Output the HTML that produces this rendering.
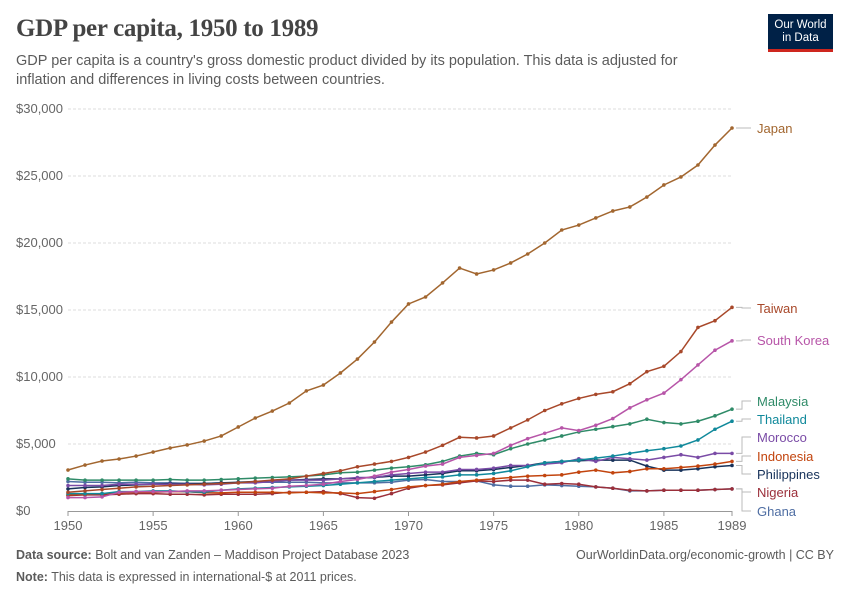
<!DOCTYPE html>
<html><head><meta charset="utf-8"><style>
body{margin:0;background:#fff;width:850px;height:600px;overflow:hidden;font-family:"Liberation Sans",sans-serif}
#title{position:absolute;left:16px;top:15px;font-family:"Liberation Serif",serif;font-size:25px;color:#444;margin:0;font-weight:bold;letter-spacing:-0.3px}
#sub{position:absolute;left:16px;top:52px;width:700px;font-size:14.5px;line-height:19px;color:#5b5b5b}
#logo{position:absolute;left:768px;top:14px;width:65px;height:38px;background:#002147;border-bottom:3px solid #ce261e;color:#fff;font-size:11.5px;line-height:13px;text-align:center;box-sizing:border-box;padding-top:5px}
.foot{position:absolute;font-size:12.5px;color:#5b5b5b}
</style></head><body>
<h1 id="title">GDP per capita, 1950 to 1989</h1>
<div id="sub">GDP per capita is a country's gross domestic product divided by its population. This data is adjusted for inflation and differences in living costs between countries.</div>
<div id="logo">Our World<br>in Data</div>
<svg id="chart" width="850" height="600" style="position:absolute;left:0;top:0"></svg>
<div class="foot" style="left:16px;top:548px"><b>Data source:</b> Bolt and van Zanden – Maddison Project Database 2023</div>
<div class="foot" style="right:16px;top:548px">OurWorldinData.org/economic-growth | CC BY</div>
<div class="foot" style="left:16px;top:570px"><b>Note:</b> This data is expressed in international-$ at 2011 prices.</div>
<script>
const years=[];for(let y=1950;y<=1989;y++)years.push(y);
const yTicks=[0,5000,10000,15000,20000,25000,30000];
const yTickLabels=["$0","$5,000","$10,000","$15,000","$20,000","$25,000","$30,000"];
const xTicks=[1950,1955,1960,1965,1970,1975,1980,1985,1989];
const japan=[3060,3430,3730,3880,4100,4400,4700,4930,5220,5600,6270,6940,7460,8060,8960,9400,10300,11340,12610,14100,15450,15970,17020,18130,17690,17990,18510,19180,20000,20970,21340,21870,22390,22690,23430,24330,24930,25820,27310,28580];
const taiwan=[1400,1500,1600,1700,1800,1850,1900,1950,2000,2050,2100,2200,2300,2400,2600,2800,3000,3300,3500,3700,4000,4400,4900,5500,5450,5600,6200,6800,7500,8000,8400,8700,8900,9500,10400,10800,11900,13700,14200,15200];
const korea=[1000,1000,1050,1400,1450,1450,1450,1500,1500,1550,1600,1650,1700,1850,1900,2000,2200,2350,2600,2900,3100,3350,3500,4000,4150,4300,4900,5400,5800,6200,6000,6400,6900,7700,8300,8800,9800,10900,12000,12700];
const malaysia=[2400,2300,2300,2300,2300,2300,2350,2300,2300,2350,2400,2450,2500,2550,2600,2700,2850,2900,3050,3200,3300,3450,3700,4100,4300,4200,4650,5000,5300,5600,5900,6100,6300,6500,6850,6600,6500,6700,7100,7600];
const thailand=[1300,1300,1300,1450,1450,1500,1500,1450,1400,1550,1650,1700,1750,1800,1850,1900,2000,2100,2200,2300,2400,2500,2550,2700,2700,2800,3000,3300,3600,3700,3800,3950,4100,4300,4500,4650,4850,5300,6100,6700];
const morocco=[1900,1900,1900,2000,2000,2000,2000,2000,1950,2000,2100,2100,2200,2300,2300,2300,2400,2500,2500,2700,2800,2900,2900,3100,3100,3200,3400,3400,3500,3600,3900,3700,4000,3900,3800,4000,4200,4000,4300,4300];
const indonesia=[1200,1250,1300,1350,1400,1400,1450,1450,1350,1350,1400,1400,1400,1350,1400,1350,1350,1300,1450,1600,1800,1900,2000,2200,2300,2400,2500,2600,2650,2700,2900,3050,2850,2950,3150,3150,3250,3350,3500,3700];
const philippines=[1650,1750,1800,1900,1950,2000,2050,2050,2050,2100,2150,2200,2250,2300,2350,2400,2400,2450,2500,2600,2600,2700,2800,3000,3000,3100,3250,3400,3600,3700,3750,3800,3800,3800,3350,3050,3050,3150,3300,3400];
const nigeria=[1150,1200,1200,1250,1300,1300,1250,1250,1200,1250,1250,1250,1300,1400,1400,1450,1300,1000,950,1300,1700,1900,1950,2100,2250,2200,2300,2300,2000,2050,2000,1800,1700,1550,1500,1550,1550,1550,1600,1650];
const ghana=[2200,2150,2150,2100,2150,2100,2100,2050,2050,2100,2100,2150,2150,2150,2150,2100,2100,2100,2100,2150,2300,2350,2200,2200,2250,1950,1850,1850,1950,1900,1850,1800,1700,1500,1500,1550,1550,1550,1600,1650];
const seriesNames=["Japan","Taiwan","South Korea","Malaysia","Thailand","Morocco","Indonesia","Philippines","Nigeria","Ghana"];
const seriesValues=[japan,taiwan,korea,malaysia,thailand,morocco,indonesia,philippines,nigeria,ghana];
const colors=["#a2662f","#a8482a","#b755a8","#2f8b68","#10899b","#7a4ba6","#c2440e","#17325a","#9b2f3a","#4f6ea3"];
const labelY=[133,313,345,406,424,442,461,479,497,516];

const svg=document.getElementById('chart');const NS='http://www.w3.org/2000/svg';
const X0=68,X1=732,Y0=511,Y1=109;
const xs=v=>X0+(v-1950)/(1989-1950)*(X1-X0);
const ys=v=>Y0-v/30000*(Y0-Y1);
function mk(t,a){const e=document.createElementNS(NS,t);for(const k in a)e.setAttribute(k,a[k]);svg.appendChild(e);return e;}
yTicks.forEach((v,i)=>{
  if(v>0){const g=mk('line',{x1:X0,x2:X1,y1:ys(v),y2:ys(v),stroke:'#ddd','stroke-dasharray':'3,2'});
  
  }
  const t=mk('text',{x:16,y:ys(v)+4,'font-size':13,fill:'#666','font-family':'Liberation Sans'});t.textContent=yTickLabels[i];
  
  
});
const ax=mk('line',{x1:X0,x2:X1,y1:Y0+0.5,y2:Y0+0.5,stroke:'#999'});


xTicks.forEach(v=>{
  const tk=mk('line',{x1:xs(v),x2:xs(v),y1:Y0,y2:Y0+5,stroke:'#999'});
  
  
  const t=mk('text',{x:xs(v),y:Y0+19,'font-size':13,fill:'#666','text-anchor':'middle','font-family':'Liberation Sans'});t.textContent=v;
  
  
});
for(let s=seriesValues.length-1;s>=0;s--){
  const vals=seriesValues[s];
  const p=mk('polyline',{points:vals.map((v,i)=>xs(years[i])+','+ys(v)).join(' '),fill:'none',stroke:colors[s],'stroke-width':1.5});
  
  
  vals.forEach((v,i)=>{const c=mk('circle',{cx:xs(years[i]),cy:ys(v),r:1.8,fill:colors[s]});
    
    });
  const last=ys(vals[vals.length-1]);
  const con=mk('polyline',{points:`${X1+4},${last} ${X1+10},${last} ${X1+10},${labelY[s]-5} ${X1+19},${labelY[s]-5}`,fill:'none',stroke:'#bbb','stroke-width':1});
  
  
  const t=mk('text',{x:757,y:labelY[s],'font-size':13,fill:colors[s],'font-family':'Liberation Sans'});t.textContent=seriesNames[s];
  
  
}
</script>
</body></html>
